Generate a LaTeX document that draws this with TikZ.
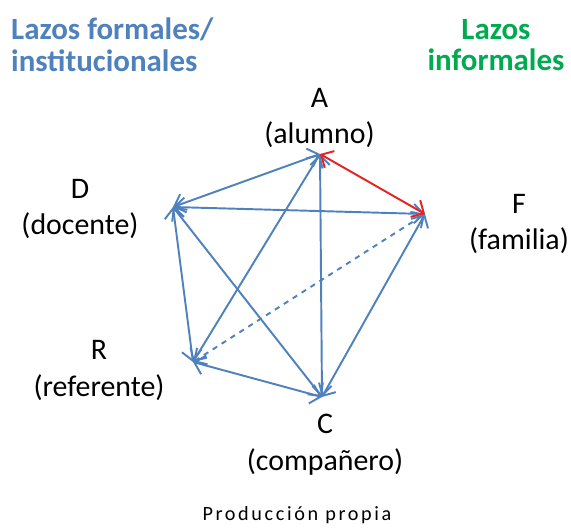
\documentclass[tikz,border=0pt]{standalone}
\usepackage{fontspec}
\setmainfont{Carlito}
\usetikzlibrary{arrows.meta}
\definecolor{lazoazul}{RGB}{79,129,189}
\definecolor{lazorojo}{RGB}{230,35,35}
\definecolor{lazoverde}{RGB}{0,170,80}
\tikzset{
  lazo/.style={draw=lazoazul, line width=1.1pt,
    {Straight Barb[length=5.5pt,width=11pt]}-{Straight Barb[length=5.5pt,width=11pt]}},
  actor/.style={align=center, font=\fontsize{17}{21}\selectfont},
  titulo/.style={font=\fontsize{17.6}{18}\selectfont\bfseries}
}
\begin{document}
\begin{tikzpicture}
\useasboundingbox (0,0) rectangle (11.42,10.58);
%titles
\node[titulo, text=lazoazul, anchor=west, align=left] (formal) at (0.1,9.68) {Lazos formales/\\institucionales};
\node[titulo, text=lazoverde, align=center] (informal) at (9.92,9.68) {Lazos\\informales};
%vertices
\coordinate (a) at (6.40,7.50);
\coordinate (d) at (3.46,6.44);
\coordinate (f) at (8.50,6.30);
\coordinate (r) at (3.86,3.34);
\coordinate (c) at (6.44,2.64);
%labels
\node[actor] (la) at (6.39,8.22) {A\\(alumno)};
\node[actor] (ld) at (1.60,6.40) {D\\(docente)};
\node[actor] (lf) at (10.38,6.10) {F\\(familia)};
\node[actor] (lr) at (1.98,3.17) {R\\(referente)};
\node[actor] (lc) at (6.50,1.68) {C\\(compañero)};
%links
\draw[lazo] (d) -- (a);
\draw[lazo] (d) -- (f);
\draw[lazo] (d) -- (c);
\draw[lazo] (d) -- (r);
\draw[lazo] (r) -- (a);
\draw[lazo] (c) -- (a);
\draw[lazo] (r) -- (c);
\draw[lazo] (f) -- (c);
\draw[lazo, dashed] (r) -- (f);
\draw[lazo, draw=lazorojo] (a) -- (f);
%source
\node[font=\fontsize{11.5}{14}\selectfont\addfontfeatures{LetterSpace=13}] (fuente) at (5.94,0.28) {Producción propia};
\end{tikzpicture}
\end{document}
